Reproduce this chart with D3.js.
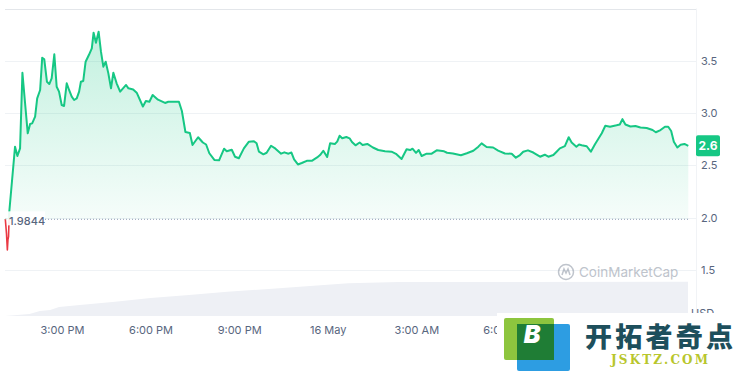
<!DOCTYPE html>
<html>
<head>
<meta charset="utf-8">
<script src="https://cdn.jsdelivr.net/npm/d3@7"></script>
<style>
	body { margin: 0; background: #fff; }
	svg { display: block; font-family: Inter, "Noto Sans", sans-serif; }
</style>
</head>
<body>
<div id="chart"></div>
<script>
// hours since 15 May 00:00
var hours = [
	13.08, 13.10, 13.12, 13.15, 13.17, 13.19, 13.215, 13.41, 13.49, 13.58,
	13.66, 13.75, 13.84, 13.92, 13.99, 14.09, 14.16, 14.26, 14.33, 14.40,
	14.49, 14.57, 14.65, 14.74, 14.82, 14.90, 14.99, 15.07, 15.16, 15.24,
	15.33, 15.41, 15.50, 15.58, 15.64, 15.72, 15.80, 15.91, 16.01, 16.07,
	16.15, 16.24, 16.32, 16.40, 16.48, 16.57, 16.66, 16.74, 16.85, 16.97,
	17.17, 17.25, 17.41, 17.53, 17.74, 17.84, 17.96, 18.07, 18.25, 18.49,
	18.60, 18.96, 19.06, 19.18, 19.33, 19.42, 19.61, 19.77, 19.88, 19.99,
	20.16, 20.32, 20.49, 20.58, 20.75, 20.86, 20.99, 21.16, 21.33, 21.50,
	21.59, 21.67, 21.82, 21.93, 22.08, 22.23, 22.42, 22.53, 22.67, 22.77,
	22.86, 22.99, 23.12, 23.29, 23.46, 23.64, 23.74, 23.85, 23.98, 24.08,
	24.24, 24.32, 24.40, 24.49, 24.63, 24.74, 24.82, 24.94, 25.08, 25.18,
	25.34, 25.53, 25.71, 25.94, 26.16, 26.31, 26.50, 26.67, 26.79, 26.87,
	26.99, 27.08, 27.18, 27.35, 27.52, 27.69, 27.94, 28.04, 28.24, 28.51,
	28.71, 28.93, 29.10, 29.21, 29.38, 29.60, 29.77, 30.00, 30.23, 30.37,
	30.51, 30.62, 30.78, 30.96, 31.19, 31.35, 31.47, 31.64, 31.75, 31.86,
	32.03, 32.16, 32.26, 32.42, 32.51, 32.60, 32.77, 32.91, 33.05, 33.16,
	33.28, 33.40, 33.56, 33.78, 33.89, 33.98, 34.08, 34.25, 34.42, 34.59,
	34.80, 35.00, 35.11, 35.27, 35.42, 35.53, 35.63, 35.72, 35.84, 35.95,
	36.08, 36.21
];
var prices = [
	1.988, 1.920, 1.850, 1.691, 1.790, 1.820, 2.057, 2.679, 2.590, 2.663,
	3.386, 3.094, 2.807, 2.896, 2.902, 2.966, 3.141, 3.221, 3.530, 3.514,
	3.300, 3.278, 3.333, 3.562, 3.252, 3.205, 3.077, 3.068, 3.285, 3.221,
	3.157, 3.125, 3.141, 3.205, 3.300, 3.307, 3.491, 3.555, 3.619, 3.769,
	3.673, 3.778, 3.587, 3.444, 3.491, 3.380, 3.237, 3.386, 3.285, 3.205,
	3.269, 3.237, 3.226, 3.195, 3.063, 3.116, 3.109, 3.173, 3.128, 3.097,
	3.109, 3.109, 3.020, 2.819, 2.810, 2.695, 2.769, 2.719, 2.700, 2.616,
	2.552, 2.549, 2.660, 2.635, 2.650, 2.583, 2.568, 2.663, 2.727, 2.731,
	2.711, 2.631, 2.606, 2.621, 2.688, 2.660, 2.612, 2.625, 2.612, 2.623,
	2.558, 2.509, 2.523, 2.544, 2.544, 2.576, 2.599, 2.640, 2.580, 2.711,
	2.705, 2.727, 2.783, 2.759, 2.771, 2.759, 2.724, 2.692, 2.719, 2.695,
	2.705, 2.671, 2.647, 2.636, 2.631, 2.611, 2.561, 2.655, 2.647, 2.660,
	2.620, 2.647, 2.590, 2.612, 2.612, 2.644, 2.635, 2.621, 2.614, 2.597,
	2.616, 2.640, 2.679, 2.711, 2.676, 2.671, 2.641, 2.614, 2.612, 2.574,
	2.599, 2.631, 2.644, 2.623, 2.583, 2.602, 2.583, 2.599, 2.631, 2.663,
	2.684, 2.769, 2.719, 2.679, 2.700, 2.693, 2.683, 2.631, 2.703, 2.752,
	2.807, 2.879, 2.870, 2.883, 2.891, 2.942, 2.891, 2.872, 2.877, 2.862,
	2.858, 2.838, 2.817, 2.838, 2.870, 2.870, 2.829, 2.727, 2.671, 2.698,
	2.705, 2.687
];

var volHours = [13.07, 13.9, 14.25, 14.6, 14.9, 15.6, 16.8, 18.0, 19.3, 20.6, 22.0, 23.4, 24.7, 26.4, 29.8, 36.2];
var volumes = [0, 2, 5, 6, 9, 11, 14.3, 18, 21, 24.3, 27, 30, 32.7, 34, 34, 34.3];

var xTickHours = [15, 18, 21, 24, 27, 30, 33];
var xTickLabels = ["3:00 PM", "6:00 PM", "9:00 PM", "16 May", "3:00 AM", "6:00 AM", "9:00 AM"];
var yTicks = [1.5, 2.0, 2.5, 3.0, 3.5];
var gridValues = [1.5, 2.0, 2.5, 3.0, 3.5, 4.0];
var openPrice = 1.9844;
var lastLabel = "2.6";

var GREEN = "#16c784",
	RED = "#ea3943",
	TEXT = "#58667e";

var width = 745,
	height = 374;
var plot = { left: 5, right: 688, edge: 696 };

var day0 = new Date(2023, 4, 15);
function toDate(h) {
	return new Date(day0.getTime() + h * 3600 * 1000);
}

var data = hours.map((h, i) => ({ date: toDate(h), price: prices[i] }));
var volData = volHours.map((h, i) => ({ date: toDate(h), vol: volumes[i] }));

var xScale = d3
	.scaleTime()
	.domain([toDate(13.07), toDate(36.2)])
	.range([plot.left, plot.right]);

var yScale = d3.scaleLinear().domain([1.0, 4.0]).range([322.3, 8.5]);

var volScale = d3.scaleLinear().domain([0, 34.3]).range([316, 281.7]);

var svg = d3
	.select("#chart")
	.append("svg")
	.attr("width", width)
	.attr("height", height);

var defs = svg.append("defs");

var grad = defs
	.append("linearGradient")
	.attr("id", "fillGrad")
	.attr("gradientUnits", "userSpaceOnUse")
	.attr("x1", 0)
	.attr("x2", 0)
	.attr("y1", yScale(d3.max(prices)))
	.attr("y2", yScale(openPrice));
grad.append("stop").attr("offset", "0%").attr("stop-color", GREEN).attr("stop-opacity", 0.26);
grad.append("stop").attr("offset", "100%").attr("stop-color", GREEN).attr("stop-opacity", 0.04);

var yBase = yScale(openPrice);

defs.append("clipPath")
	.attr("id", "clipUp")
	.append("rect")
	.attr("x", 0)
	.attr("y", 0)
	.attr("width", width)
	.attr("height", yBase);

defs.append("clipPath")
	.attr("id", "clipDown")
	.append("rect")
	.attr("x", 0)
	.attr("y", yBase)
	.attr("width", width)
	.attr("height", height - yBase);

// grid lines
svg.append("g")
	.selectAll("line")
	.data(gridValues)
	.enter()
	.append("line")
	.attr("x1", plot.left)
	.attr("x2", plot.edge)
	.attr("y1", (d) => Math.round(yScale(d)) + 0.5)
	.attr("y2", (d) => Math.round(yScale(d)) + 0.5)
	.style("stroke", (d) => (d == 4.0 ? "#e3e6ea" : "#eff2f5"))
	.style("stroke-width", 1);

svg.append("line")
	.attr("x1", plot.edge + 0.5)
	.attr("x2", plot.edge + 0.5)
	.attr("y1", yScale(4.0))
	.attr("y2", 316)
	.style("stroke", "#f1f3f6");

// volume
var volArea = d3
	.area()
	.x((d) => xScale(d.date))
	.y0(volScale(0))
	.y1((d) => volScale(d.vol));

svg.append("path")
	.datum(volData)
	.attr("d", volArea)
	.style("fill", "#eef0f5");

// price area + line
var area = d3
	.area()
	.x((d) => xScale(d.date))
	.y0(yBase)
	.y1((d) => yScale(d.price));

svg.append("path")
	.datum(data)
	.attr("d", area)
	.attr("clip-path", "url(#clipUp)")
	.style("fill", "url(#fillGrad)");

// open price dotted line
svg.append("line")
	.attr("x1", plot.left + 40)
	.attr("x2", plot.right)
	.attr("y1", yBase)
	.attr("y2", yBase)
	.style("stroke", "#a6b0c3")
	.style("stroke-width", 1.2)
	.style("stroke-dasharray", "1,2");

var line = d3
	.line()
	.x((d) => xScale(d.date))
	.y((d) => yScale(d.price));

svg.append("path")
	.datum(data)
	.attr("d", line)
	.attr("clip-path", "url(#clipUp)")
	.style("fill", "none")
	.style("stroke", GREEN)
	.style("stroke-width", 2)
	.style("stroke-linejoin", "round");

svg.append("path")
	.datum(data)
	.attr("d", line)
	.attr("clip-path", "url(#clipDown)")
	.style("fill", "none")
	.style("stroke", RED)
	.style("stroke-width", 1.6)
	.style("stroke-linejoin", "round");

// open price label
var openG = svg.append("g").attr("transform", "translate(" + (plot.left + 3) + "," + yBase + ")");
openG.append("rect").attr("x", 0).attr("y", -8).attr("width", 37).attr("height", 14).style("fill", "#fff").style("opacity", 0.9);
openG.append("text")
	.attr("x", 1)
	.attr("dy", "0.55em")
	.style("font-size", "11px")
	.style("font-weight", 500)
	.style("fill", TEXT)
	.text(d3.format(".4f")(openPrice));

// y axis
var yAxis = d3
	.axisRight(yScale)
	.tickValues(yTicks)
	.tickSize(0)
	.tickPadding(0)
	.tickFormat(d3.format(".1f"));

svg.append("g")
	.attr("class", "yAxis")
	.attr("transform", "translate(701,0)")
	.call(yAxis)
	.call((g) => g.select(".domain").remove())
	.selectAll("text")
	.style("font-family", "Inter, sans-serif")
	.style("font-size", "11px")
	.style("fill", TEXT);

svg.append("text")
	.attr("x", 691)
	.attr("y", 317)
	.style("font-size", "11px")
	.style("fill", TEXT)
	.text("USD");

// x axis
var xAxis = d3
	.axisBottom(xScale)
	.tickValues(xTickHours.map(toDate))
	.tickSize(0)
	.tickPadding(0)
	.tickFormat((d, i) => xTickLabels[i]);

svg.append("g")
	.attr("class", "xAxis")
	.attr("transform", "translate(0,326)")
	.call(xAxis)
	.call((g) => g.select(".domain").remove())
	.selectAll("text")
	.style("font-family", "Inter, sans-serif")
	.style("font-size", "11px")
	.style("fill", TEXT);

// current price tag
var last = data[data.length - 1];
var tag = svg.append("g").attr("transform", "translate(696," + yScale(last.price) + ")");
tag.append("rect").attr("x", 0).attr("y", -10.5).attr("width", 24).attr("height", 21).attr("rx", 2).style("fill", GREEN);
tag.append("text")
	.attr("x", 12)
	.attr("dy", "0.35em")
	.style("text-anchor", "middle")
	.style("font-size", "12px")
	.style("font-weight", 700)
	.style("fill", "#fff")
	.text(lastLabel);

// CoinMarketCap watermark
var cmc = svg.append("g").attr("transform", "translate(566,272)").style("opacity", 0.55);
cmc.append("circle").attr("r", 7.5).style("fill", "none").style("stroke", "#8b94a3").style("stroke-width", 1.5);
cmc.append("path").attr("d", "M-4,3 L-2,-3 L0,1 L2,-3 L4,3").style("fill", "none").style("stroke", "#8b94a3").style("stroke-width", 1.5);
cmc.append("text")
	.attr("x", 13)
	.attr("dy", "0.35em")
	.style("font-size", "13.5px")
	.style("fill", "#8b94a3")
	.text("CoinMarketCap");

// site watermark at the bottom right
var wm = svg.append("g");
wm.append("rect").attr("x", 497).attr("y", 313).attr("width", 248).attr("height", 61).style("fill", "#fff");
wm.append("rect").attr("x", 517).attr("y", 324).attr("width", 53).attr("height", 47).attr("rx", 2).style("fill", "#2d9de2");
wm.append("rect").attr("x", 504).attr("y", 318).attr("width", 50).attr("height", 42).attr("rx", 2).style("fill", "#8dc53e");
wm.append("rect").attr("x", 517).attr("y", 324).attr("width", 37).attr("height", 36).style("fill", "#1f7d35");
wm.append("text")
	.attr("x", 532)
	.attr("y", 343)
	.style("text-anchor", "middle")
	.style("font-size", "25px")
	.style("font-weight", 900)
	.style("font-style", "italic")
	.style("fill", "#fff")
	.text("B");
wm.append("text")
	.attr("x", 585)
	.attr("y", 347)
	.attr("textLength", 148)
	.style("font-family", "'Noto Sans CJK SC', sans-serif")
	.style("font-size", "27px")
	.style("font-weight", 900)
	.style("fill", "#1d4f5c")
	.text("开拓者奇点");
wm.append("text")
	.attr("x", 611)
	.attr("y", 364)
	.attr("textLength", 97)
	.style("font-family", "'DejaVu Serif', serif")
	.style("font-size", "12px")
	.style("font-weight", 700)
	.style("fill", "#b8c62c")
	.text("JSKTZ.COM");
</script>
</body>
</html>
